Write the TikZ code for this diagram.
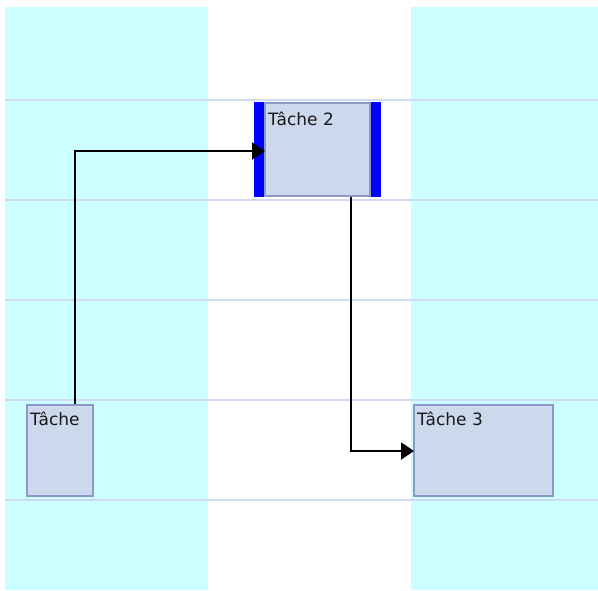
\documentclass[tikz,border=0pt]{standalone}
\usepackage{fontspec}
\setmainfont{DejaVu Sans}
\usetikzlibrary{arrows.meta}
\definecolor{colbg}{HTML}{CCFFFF}
\definecolor{gridln}{HTML}{D0DAF0}
\definecolor{taskfill}{HTML}{CCD8EC}
\definecolor{taskedge}{HTML}{8C98C8}
\definecolor{selbar}{HTML}{0000FF}
\tikzset{
  taskbox/.style={draw=taskedge, fill=taskfill, line width=2pt},
  tasklabel/.style={anchor=base west, inner sep=0pt, font=\fontsize{17}{19}\selectfont, text=black!90},
  link/.style={draw=black, line width=2pt, -{Triangle[length=13pt,width=17pt]}},
}
\begin{document}
\begin{tikzpicture}[x=1pt,y=-1pt]
\useasboundingbox (0,0) rectangle (598,590);
\fill[white] (0,0) rectangle (598,590);
% columns
\fill[colbg] (5,7) rectangle (208,590);
\fill[colbg] (411,7) rectangle (598,590);
% row lines
\foreach \yy in {100,200,300,400,500}
  \draw[gridln, line width=2pt] (5,\yy) -- (598,\yy);
% tasks
\draw[taskbox] (27,405) rectangle (93,496);
\node[tasklabel] (t1) at (30,425) {Tâche};
\coordinate (t1top) at (75,404);
\fill[selbar] (254,102) rectangle (381,197);
\draw[taskbox] (265,103) rectangle (370,196);
\node[tasklabel] (t2) at (268,125) {Tâche 2};
\coordinate (t2left) at (265,151);
\coordinate (t2bot) at (351,197);
\draw[taskbox] (414,405) rectangle (553,496);
\node[tasklabel] (t3) at (417,425) {Tâche 3};
\coordinate (t3left) at (414,451);
% links
\draw[link] (t1top) |- (t2left);
\draw[link] (t2bot) |- (t3left);
\end{tikzpicture}
\end{document}
